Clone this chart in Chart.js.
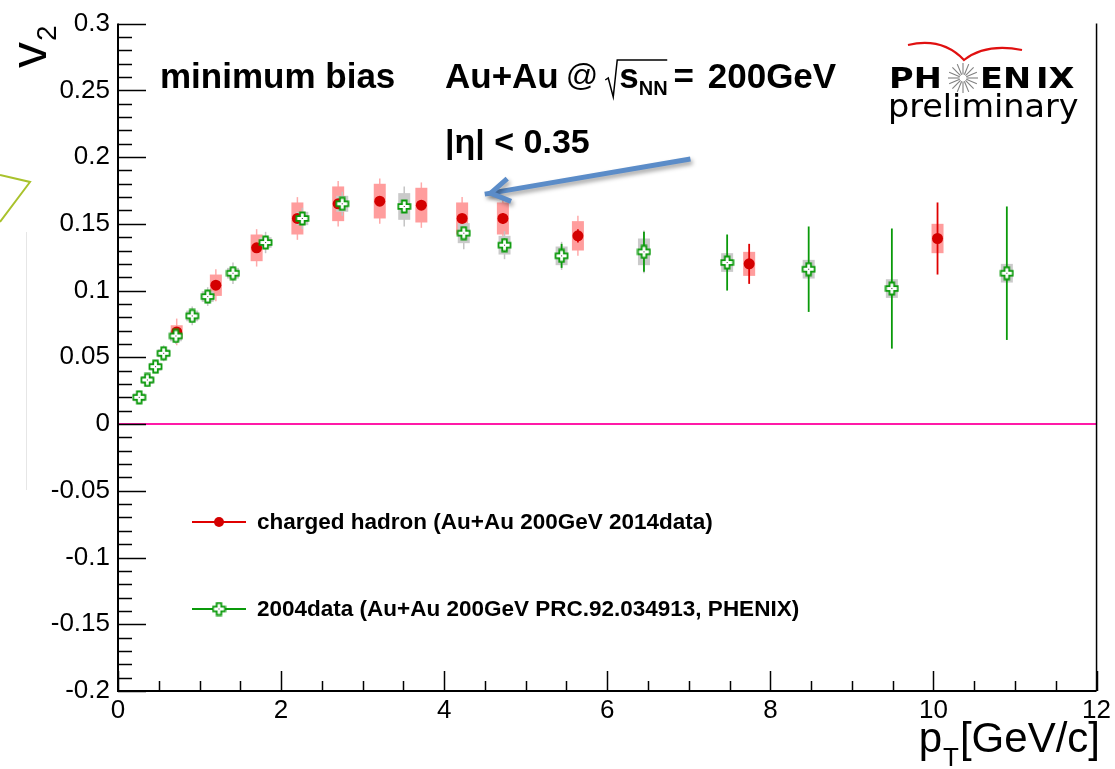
<!DOCTYPE html>
<html>
<head>
<meta charset="utf-8">
<script src="https://cdn.jsdelivr.net/npm/chart.js@4.4.1/dist/chart.umd.min.js"></script>
<style>
  body { margin: 0; background: #fff; }
  #wrap { width: 1115px; height: 769px; position: relative; }
</style>
</head>
<body>
<div id="wrap"><canvas id="js--chart"></canvas></div>
<script>
/* v2 vs pT, charged hadrons, Au+Au 200GeV */

// 2014 data (red)
const redPt = [0.72, 1.20, 1.70, 2.20, 2.70, 3.21, 3.72, 4.22, 4.72, 5.64, 7.74, 10.05];
const redV2 = [0.069, 0.104, 0.132, 0.154, 0.165, 0.167, 0.164, 0.154, 0.154, 0.141, 0.120, 0.139];
const redStat = [0.003, 0.003, 0.003, 0.003, 0.003, 0.003, 0.003, 0.003, 0.004, 0.005, 0.015, 0.027];
const redSys = [0.005, 0.008, 0.010, 0.012, 0.013, 0.013, 0.013, 0.012, 0.012, 0.011, 0.009, 0.011];
const redOuter = [0.010, 0.012, 0.014, 0.016, 0.017, 0.017, 0.017, 0.016, 0.016, 0.015, 0, 0];

// 2004 data (green)
const g04Pt = [0.26, 0.36, 0.46, 0.56, 0.71, 0.91, 1.10, 1.41, 1.81, 2.26, 2.75, 3.51, 4.24, 4.74, 5.44, 6.45, 7.47, 8.47, 9.49, 10.90];
const g04V2 = [0.020, 0.033, 0.043, 0.053, 0.066, 0.081, 0.0955, 0.113, 0.136, 0.154, 0.165, 0.163, 0.143, 0.134, 0.126, 0.129, 0.121, 0.116, 0.1015, 0.113];
const g04Stat = [0.001, 0.001, 0.001, 0.001, 0.001, 0.001, 0.001, 0.001, 0.001, 0.001, 0.002, 0.003, 0.004, 0.005, 0.009, 0.015, 0.021, 0.032, 0.045, 0.050];
const g04Sys = [0.003, 0.003, 0.003, 0.003, 0.004, 0.004, 0.004, 0.004, 0.004, 0.005, 0.006, 0.010, 0.0075, 0.007, 0.007, 0.010, 0.007, 0.007, 0.007, 0.007];
const g04Outer = [0.005, 0.005, 0.005, 0.006, 0.006, 0.007, 0.007, 0.008, 0.008, 0.008, 0.009, 0.015, 0.012, 0.0105, 0.0105, 0.016, 0, 0, 0, 0];

const xTicks = [0, 2, 4, 6, 8, 10, 12];
const yTicks = [-0.2, -0.15, -0.1, -0.05, 0, 0.05, 0.1, 0.15, 0.2, 0.25, 0.3];

const redLabel = "charged hadron (Au+Au 200GeV 2014data)";
const greenLabel = "2004data (Au+Au 200GeV PRC.92.034913, PHENIX)";

const SANS = "'Liberation Sans', Arial, Helvetica, sans-serif";
const DEJA = "'DejaVu Sans', sans-serif";
const RED = "#d40000";
const GREEN = "#0a9a0a";

// open cross marker for 2004 data
function makeCross() {
    const c = document.createElement("canvas");
    c.width = 15;
    c.height = 15;
    const g = c.getContext("2d");
    const m = 7.5, a = 2.3, L = 6;
    g.beginPath();
    g.moveTo(m - a, m - L); g.lineTo(m + a, m - L); g.lineTo(m + a, m - a);
    g.lineTo(m + L, m - a); g.lineTo(m + L, m + a); g.lineTo(m + a, m + a);
    g.lineTo(m + a, m + L); g.lineTo(m - a, m + L); g.lineTo(m - a, m + a);
    g.lineTo(m - L, m + a); g.lineTo(m - L, m - a); g.lineTo(m - a, m - a);
    g.closePath();
    g.fillStyle = "#fff";
    g.fill();
    g.strokeStyle = GREEN;
    g.lineWidth = 1.8;
    g.stroke();
    g.fillStyle = "#333";
    g.fillRect(7, 7, 1, 1);
    return c;
}
const crossImg = makeCross();

function toPoints(xs, ys) {
    return xs.map(function (x, i) { return { x: x, y: ys[i] }; });
}

function drawErrors(ctx, xs, scaleX, scaleY, ys, outer, sys, stat, cols) {
    const hw = 6;
    for (let i = 0; i < xs.length; i++) {
        const px = scaleX.getPixelForValue(xs[i]);
        const y = ys[i];
        // outer thin whisker
        if (outer[i] > 0) {
            ctx.strokeStyle = cols.outer;
            ctx.lineWidth = 1.5;
            ctx.beginPath();
            ctx.moveTo(px, scaleY.getPixelForValue(y + outer[i]));
            ctx.lineTo(px, scaleY.getPixelForValue(y - outer[i]));
            ctx.stroke();
        }
        // systematic box
        const top = scaleY.getPixelForValue(y + sys[i]);
        const bot = scaleY.getPixelForValue(y - sys[i]);
        ctx.fillStyle = cols.box;
        ctx.fillRect(px - hw, top, hw * 2, bot - top);
        // statistical whisker
        ctx.strokeStyle = cols.stat;
        ctx.lineWidth = 1.8;
        ctx.beginPath();
        ctx.moveTo(px, scaleY.getPixelForValue(y + stat[i]));
        ctx.lineTo(px, scaleY.getPixelForValue(y - stat[i]));
        ctx.stroke();
    }
}

// text squeezed or stretched sideways
function wideText(ctx, str, x, y, sx) {
    ctx.save();
    ctx.translate(x, y);
    ctx.scale(sx, 1);
    ctx.fillText(str, 0, 0);
    ctx.restore();
    return ctx.measureText(str).width * sx;
}

const decorPlugin = {
    id: "decor",
    beforeDatasetsDraw: function (chart) {
        const ctx = chart.ctx;
        const sx = chart.scales.x, sy = chart.scales.y;
        const area = chart.chartArea;
        ctx.save();
        // zero line
        ctx.strokeStyle = "#ff1aa8";
        ctx.lineWidth = 2;
        ctx.beginPath();
        ctx.moveTo(area.left, sy.getPixelForValue(0));
        ctx.lineTo(area.right, sy.getPixelForValue(0));
        ctx.stroke();

        drawErrors(ctx, redPt, sx, sy, redV2, redOuter, redSys, redStat,
            { outer: "#ffaaaa", box: "#ff9d9d", stat: "#e00000" });
        drawErrors(ctx, g04Pt, sx, sy, g04V2, g04Outer, g04Sys, g04Stat,
            { outer: "#c4c4c4", box: "#cacaca", stat: GREEN });
        ctx.restore();
    },
    afterDraw: function (chart) {
        const ctx = chart.ctx;
        const sx = chart.scales.x, sy = chart.scales.y;
        const area = chart.chartArea;
        ctx.save();

        // frame
        ctx.strokeStyle = "#000";
        ctx.lineWidth = 2;
        ctx.beginPath();
        ctx.moveTo(area.left, area.top);
        ctx.lineTo(area.left, area.bottom);
        ctx.lineTo(area.right, area.bottom);
        ctx.stroke();
        ctx.lineWidth = 1.5;
        ctx.beginPath();
        ctx.moveTo(area.right, area.top);
        ctx.lineTo(area.right, area.bottom);
        ctx.stroke();

        // y ticks, inside
        ctx.lineWidth = 1.5;
        for (let i = -20; i <= 30; i++) {
            const py = Math.round(sy.getPixelForValue(i / 100)) + 0.5;
            const len = (i % 5 === 0) ? 28 : 14;
            ctx.beginPath();
            ctx.moveTo(area.left, py);
            ctx.lineTo(area.left + len, py);
            ctx.stroke();
        }
        // x ticks, inside
        for (let i = 0; i <= 24; i++) {
            const px = Math.round(sx.getPixelForValue(i * 0.5)) + 0.5;
            const len = (i % 4 === 0) ? 20 : 10;
            ctx.beginPath();
            ctx.moveTo(px, area.bottom);
            ctx.lineTo(px, area.bottom - len);
            ctx.stroke();
        }

        ctx.fillStyle = "#000";
        ctx.textBaseline = "alphabetic";
        ctx.textAlign = "left";

        // axis title v2
        ctx.save();
        ctx.translate(46, 68);
        ctx.rotate(-Math.PI / 2);
        ctx.font = "52px " + SANS;
        ctx.fillText("v", 0, 0);
        const vw = ctx.measureText("v").width;
        ctx.font = "28px " + SANS;
        ctx.fillText("2", vw + 1, 10);
        ctx.restore();

        // axis title pT[GeV/c]
        ctx.font = "42px " + SANS;
        ctx.textAlign = "right";
        ctx.fillText("[GeV/c]", 1100, 752);
        const rw = ctx.measureText("[GeV/c]").width;
        ctx.font = "26px " + SANS;
        const tw = ctx.measureText("T").width;
        ctx.fillText("T", 1100 - rw - 1, 766);
        ctx.font = "42px " + SANS;
        ctx.fillText("p", 1100 - rw - tw - 2, 752);
        ctx.textAlign = "left";

        // header texts
        ctx.font = "bold 35px " + SANS;
        ctx.fillText("minimum bias", 160, 88);
        let cx = 445;
        ctx.fillText("Au+Au", cx, 88);
        cx += ctx.measureText("Au+Au").width + 7;
        ctx.font = "32px " + SANS;
        ctx.fillText("@", cx, 86);
        cx += ctx.measureText("@").width + 7;
        // square root sign
        ctx.lineWidth = 1.5;
        ctx.beginPath();
        ctx.moveTo(cx, 80);
        ctx.lineTo(cx + 3, 78);
        ctx.lineTo(cx + 8, 97);
        ctx.lineTo(cx + 12, 60);
        ctx.lineTo(cx + 62, 60);
        ctx.stroke();
        cx += 14;
        ctx.font = "bold 35px " + SANS;
        ctx.fillText("s", cx, 88);
        cx += ctx.measureText("s").width;
        ctx.font = "bold 20px " + SANS;
        ctx.fillText("NN", cx, 95);
        cx += ctx.measureText("NN").width + 6;
        ctx.font = "bold 35px " + SANS;
        ctx.fillText("=", cx, 88);
        cx += ctx.measureText("= ").width + 4;
        ctx.fillText("200GeV", cx, 88);

        ctx.font = "bold 34px " + SANS;
        ctx.fillText("|\u03B7| < 0.35", 445, 153);

        // arrow, placed in data coordinates
        const ax0 = sx.getPixelForValue(7.02), ay0 = sy.getPixelForValue(0.1985);
        const ax1 = sx.getPixelForValue(4.57), ay1 = sy.getPixelForValue(0.173);
        const ang = Math.atan2(ay1 - ay0, ax1 - ax0);
        ctx.save();
        ctx.shadowColor = "rgba(0,0,0,0.35)";
        ctx.shadowBlur = 4;
        ctx.shadowOffsetX = 2;
        ctx.shadowOffsetY = 3;
        ctx.strokeStyle = "#5b8cc8";
        ctx.lineWidth = 5;
        ctx.lineCap = "butt";
        ctx.beginPath();
        ctx.moveTo(ax0, ay0);
        ctx.lineTo(ax1 + 6 * Math.cos(ang), ay1 + 6 * Math.sin(ang));
        ctx.stroke();
        ctx.lineJoin = "miter";
        ctx.beginPath();
        ctx.moveTo(ax1 - 22 * Math.cos(ang - 0.55), ay1 - 22 * Math.sin(ang - 0.55));
        ctx.lineTo(ax1, ay1);
        ctx.lineTo(ax1 - 22 * Math.cos(ang + 0.55), ay1 - 22 * Math.sin(ang + 0.55));
        ctx.stroke();
        ctx.restore();

        // PHENIX logo
        ctx.strokeStyle = "#e01010";
        ctx.lineWidth = 2.2;
        ctx.beginPath();
        ctx.moveTo(908, 45);
        ctx.quadraticCurveTo(942, 37, 964, 60);
        ctx.quadraticCurveTo(986, 43, 1022, 50);
        ctx.stroke();

        ctx.font = "bold 28px " + DEJA;
        ctx.fillStyle = "#000";
        wideText(ctx, "PH", 889, 88, 1.2);
        wideText(ctx, "EN", 980, 88, 1.2);
        wideText(ctx, "IX", 1036, 88, 1.2);
        // star in place of O
        ctx.strokeStyle = "#808080";
        ctx.lineWidth = 1.1;
        for (let k = 0; k < 16; k++) {
            const t = k * Math.PI / 8;
            ctx.beginPath();
            ctx.moveTo(963 + 3.5 * Math.cos(t), 78 + 3.5 * Math.sin(t));
            ctx.lineTo(963 + 15 * Math.cos(t), 78 + 15 * Math.sin(t));
            ctx.stroke();
        }
        ctx.font = "32px " + DEJA;
        wideText(ctx, "preliminary", 888, 117, 1.045);

        // legend
        ctx.lineWidth = 2;
        ctx.strokeStyle = "#e00000";
        ctx.beginPath();
        ctx.moveTo(192, 522);
        ctx.lineTo(246, 522);
        ctx.stroke();
        ctx.fillStyle = RED;
        ctx.beginPath();
        ctx.arc(219, 522, 5, 0, Math.PI * 2);
        ctx.fill();
        ctx.strokeStyle = GREEN;
        ctx.beginPath();
        ctx.moveTo(192, 609);
        ctx.lineTo(246, 609);
        ctx.stroke();
        ctx.drawImage(crossImg, 219 - 7.5, 609 - 7.5);
        ctx.fillStyle = "#000";
        ctx.font = "bold 22.5px " + SANS;
        ctx.textBaseline = "middle";
        ctx.fillText(redLabel, 257, 523);
        ctx.fillText(greenLabel, 257, 610);

        // slide leftovers at the left edge
        ctx.strokeStyle = "#a9c22c";
        ctx.lineWidth = 2;
        ctx.beginPath();
        ctx.moveTo(0, 175);
        ctx.lineTo(30, 182);
        ctx.lineTo(0, 222);
        ctx.stroke();
        ctx.strokeStyle = "#e6e6e6";
        ctx.lineWidth = 1;
        ctx.beginPath();
        ctx.moveTo(26.5, 232);
        ctx.lineTo(26.5, 490);
        ctx.stroke();

        ctx.restore();
    }
};

Chart.defaults.font.family = SANS;
Chart.defaults.color = "#000";

new Chart(document.getElementById("js--chart"), {
    type: "scatter",
    data: {
        datasets: [
            {
                label: redLabel,
                data: toPoints(redPt, redV2),
                pointStyle: "circle",
                pointRadius: 5.5,
                pointBackgroundColor: RED,
                pointBorderColor: RED,
                pointBorderWidth: 0,
                order: 1
            },
            {
                label: greenLabel,
                data: toPoints(g04Pt, g04V2),
                pointStyle: crossImg,
                pointRadius: 7,
                order: 0
            }
        ]
    },
    options: {
        responsive: true,
        maintainAspectRatio: false,
        devicePixelRatio: 1,
        animation: false,
        layout: { padding: { top: 21, right: 15, left: 0, bottom: 0 } },
        plugins: {
            legend: { display: false },
            tooltip: { enabled: false }
        },
        scales: {
            x: {
                type: "linear",
                min: 0,
                max: 12,
                afterBuildTicks: function (scale) {
                    scale.ticks = xTicks.map(function (v) { return { value: v }; });
                },
                ticks: { font: { size: 26 }, padding: 4, maxRotation: 0, autoSkip: false },
                grid: { display: false, drawTicks: false },
                border: { display: false },
                afterFit: function (scale) { scale.height = 78; }
            },
            y: {
                type: "linear",
                min: -0.2,
                max: 0.3,
                afterBuildTicks: function (scale) {
                    scale.ticks = yTicks.map(function (v) { return { value: v }; });
                },
                ticks: {
                    font: { size: 26 },
                    padding: 8,
                    autoSkip: false,
                    callback: function (v) { return String(parseFloat(Number(v).toFixed(2))); }
                },
                grid: { display: false, drawTicks: false },
                border: { display: false },
                afterFit: function (scale) { scale.width = 118; }
            }
        }
    },
    plugins: [decorPlugin]
});
</script>
</body>
</html>
